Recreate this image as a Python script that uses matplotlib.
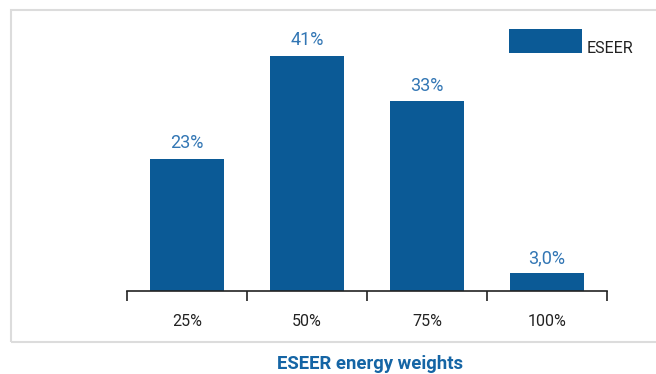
import matplotlib
matplotlib.use('Agg')
import matplotlib.pyplot as plt
from matplotlib.patches import Rectangle

# ESEER load weights per part-load point
categories = ['25%', '50%', '75%', '100%']
weights = [23, 41, 33, 3.0]
value_labels = ['23%', '41%', '33%', '3,0%']
series_name = 'ESEER'

BAR_COLOR = '#0b5a96'
LABEL_COLOR = '#3276b4'
TITLE_COLOR = '#1565a5'
TEXT_COLOR = '#222222'

plt.rcParams['font.family'] = ['Roboto', 'DejaVu Sans']

W, H = 656, 374
fig = plt.figure(figsize=(W / 100, H / 100), dpi=100)

# axes placed in pixel terms: x from 127 to 607, baseline at y=290.5
left, right = 127, 607
base, top = 290.5, 10
ax = fig.add_axes([left / W, (H - base) / H, (right - left) / W, (base - top) / H])

x = [i + 0.5 for i in range(len(categories))]
ax.bar(x, weights, width=0.61, color=BAR_COLOR, zorder=2)
for xi, v, lab in zip(x, weights, value_labels):
    ax.text(xi, v + 1.8, lab, ha='center', va='baseline', color=LABEL_COLOR, fontsize=13)

# category names under the axis
for xi, cat in zip(x, categories):
    ax.annotate(cat, xy=(xi, 0), xycoords=('data', 'axes fraction'),
                xytext=(0, -22), textcoords='offset points',
                ha='center', va='center', fontsize=11.5, color=TEXT_COLOR)

ax.set_xlim(0, len(categories))
ax.set_ylim(0, (base - top) / 5.73)
ax.set_xticks(range(len(categories) + 1))
ax.set_xticklabels([])
ax.tick_params(axis='x', direction='out', length=7, width=1.2, color=TEXT_COLOR)
ax.set_yticks([])
for s in ['left', 'right', 'top']:
    ax.spines[s].set_visible(False)
ax.spines['bottom'].set_linewidth(1.2)
ax.spines['bottom'].set_color(TEXT_COLOR)

# frame around the chart area
fig.patches.append(Rectangle((11 / W, (H - 342) / H), (W - 11) / W + 0.01, (342 - 9.5) / H,
                             transform=fig.transFigure, fill=False,
                             edgecolor='#dcdcdc', linewidth=1.5))

# legend
fig.patches.append(Rectangle((509 / W, (H - 53.3) / H), 73 / W, 24.3 / H,
                             transform=fig.transFigure, facecolor=BAR_COLOR,
                             edgecolor='none'))
fig.text(587 / W, (H - 53.3) / H, series_name, fontsize=11.5, color=TEXT_COLOR,
         ha='left', va='baseline')

fig.text(370 / W, (H - 369) / H, 'ESEER energy weights', fontsize=13.3,
         fontweight='bold', color=TITLE_COLOR, ha='center', va='baseline')

fig.savefig('out.png', dpi=100)
